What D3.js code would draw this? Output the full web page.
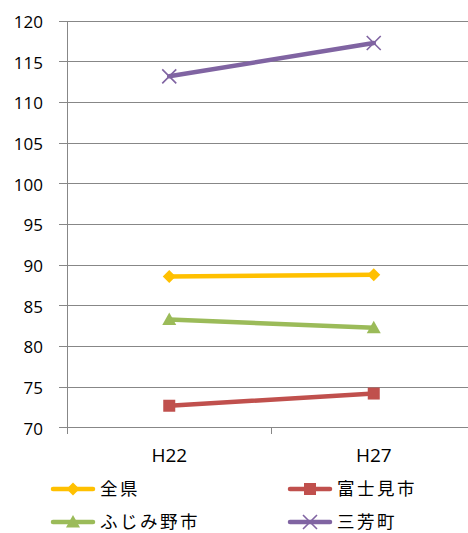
<!DOCTYPE html>
<html><head><meta charset="utf-8">
<script src="https://cdn.jsdelivr.net/npm/d3@7"></script>
<style>body{margin:0;background:#fff}</style>
</head><body>
<svg id="c" width="468" height="533"></svg>
<script>
const categories = ["H22", "H27"];
const seriesNames = ["全県", "富士見市", "ふじみ野市", "三芳町"];
const zenken = [88.6, 88.8];
const fujimi = [72.7, 74.2];
const fujimino = [83.3, 82.3];
const miyoshi = [113.2, 117.3];
const yTicks = [70, 75, 80, 85, 90, 95, 100, 105, 110, 115, 120];

const series = [
  {name: seriesNames[0], values: zenken, color: "#FFC000", marker: "diamond"},
  {name: seriesNames[1], values: fujimi, color: "#C0504D", marker: "square"},
  {name: seriesNames[2], values: fujimino, color: "#9BBB59", marker: "triangle"},
  {name: seriesNames[3], values: miyoshi, color: "#8064A2", marker: "x"}
];

const svg = d3.select("#c");
const pLeft = 67, pRight = 476, pTop = 21, pBottom = 427.7;
const y = d3.scaleLinear().domain([70, 120]).range([pBottom, pTop]);
const x = d3.scaleBand().domain(categories).range([pLeft, pRight]);
const font = "'Open Sans','Noto Sans CJK JP',sans-serif";

// gridlines
svg.append("g").selectAll("line").data(yTicks).join("line")
  .attr("x1", pLeft - 8).attr("x2", 468)
  .attr("y1", d => y(d)).attr("y2", d => y(d))
  .attr("stroke", "#878787").attr("stroke-width", 1).attr("shape-rendering", "crispEdges");
// y axis
svg.append("line").attr("x1", pLeft).attr("x2", pLeft).attr("y1", pTop).attr("y2", pBottom + 6)
  .attr("stroke", "#878787").attr("shape-rendering", "crispEdges");
// category ticks
const bounds = [x.range()[0] + x.bandwidth()];
svg.append("g").selectAll("line").data(bounds).join("line")
  .attr("x1", d => d).attr("x2", d => d).attr("y1", pBottom).attr("y2", pBottom + 6)
  .attr("stroke", "#878787").attr("shape-rendering", "crispEdges");
// y labels
svg.append("g").selectAll("text").data(yTicks).join("text")
  .attr("x", 43).attr("y", d => y(d) + 1).attr("dy", "0.36em").attr("text-anchor", "end")
  .attr("font-family", font).attr("font-size", 17).attr("fill", "#000").text(d => d);
// x labels
svg.append("g").selectAll("text").data(categories).join("text")
  .attr("x", d => x(d) + x.bandwidth() / 2).attr("y", 455.5).attr("dy", "0.36em")
  .attr("text-anchor", "middle").attr("font-family", font).attr("font-size", 19).attr("fill", "#000").text(d => d);

function drawMarker(g, type, color, cx, cy) {
  if (type === "diamond") {
    g.append("path").attr("d", `M${cx},${cy-6.5}L${cx+6.5},${cy}L${cx},${cy+6.5}L${cx-6.5},${cy}Z`).attr("fill", color);
  } else if (type === "square") {
    g.append("rect").attr("x", cx - 6).attr("y", cy - 6).attr("width", 12).attr("height", 12).attr("fill", color);
  } else if (type === "triangle") {
    g.append("path").attr("d", `M${cx},${cy-7}L${cx+7},${cy+5.5}L${cx-7},${cy+5.5}Z`).attr("fill", color);
  } else {
    g.append("path").attr("d", `M${cx-7},${cy-7}L${cx+7},${cy+7}M${cx+7},${cy-7}L${cx-7},${cy+7}`)
      .attr("stroke", color).attr("stroke-width", 1.6).attr("fill", "none");
  }
}

const line = d3.line().x((d, i) => x(categories[i]) + x.bandwidth() / 2).y(d => y(d));
series.forEach(s => {
  const g = svg.append("g");
  g.append("path").datum(s.values).attr("d", line).attr("fill", "none")
    .attr("stroke", s.color).attr("stroke-width", 4.5).attr("stroke-linecap", "round");
  s.values.forEach((v, i) => drawMarker(g, s.marker, s.color, x(categories[i]) + x.bandwidth() / 2, y(v)));
});

// legend
const legPos = [[51, 489], [288, 489], [51, 522], [288, 522]];
series.forEach((s, i) => {
  const [lx, ly] = legPos[i];
  const g = svg.append("g");
  g.append("line").attr("x1", lx + 2).attr("x2", lx + 42).attr("y1", ly).attr("y2", ly)
    .attr("stroke", s.color).attr("stroke-width", 4.5).attr("stroke-linecap", "round");
  drawMarker(g, s.marker, s.color, lx + 22, ly);
  g.append("text").attr("x", lx + 49).attr("y", ly).attr("dy", "0.36em")
    .attr("font-family", "'Noto Sans CJK JP',sans-serif").attr("font-size", 17.5).attr("letter-spacing", 2.5)
    .attr("fill", "#000").text(s.name);
});
</script>
</body></html>
